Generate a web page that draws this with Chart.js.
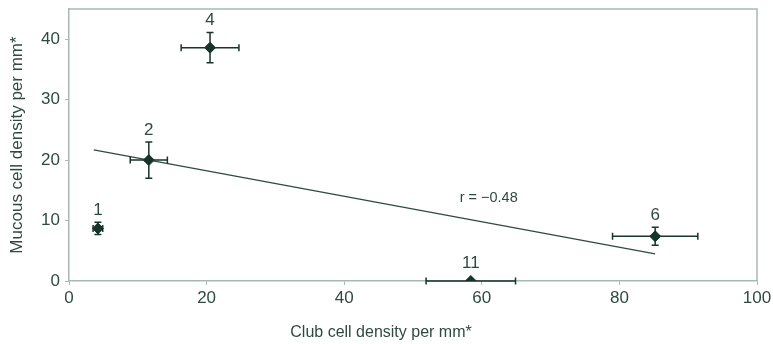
<!DOCTYPE html>
<html>
<head>
<meta charset="utf-8">
<script src="https://cdn.jsdelivr.net/npm/chart.js@4/dist/chart.umd.min.js"></script>
<style>
  html, body { margin: 0; padding: 0; background: #fff; }
  #wrap { width: 773px; height: 344px; }
</style>
</head>
<body>
<div id="wrap"><canvas id="chart"></canvas></div>
<script>
// --- Data ---
const pointLabels = ['1', '2', '4', '6', '11'];
const clubDensity = [4.2, 11.6, 20.5, 85.2, 58.4];
const clubErr = [0.7, 2.7, 4.2, 6.2, 6.5];
const mucousDensity = [8.7, 20.0, 38.6, 7.4, 0];
const mucousErr = [1.0, 3.0, 2.5, 1.5, 0];
const trendX = [3.6, 85.2];
const trendY = [21.7, 4.5];
const xTicks = [0, 20, 40, 60, 80, 100];
const yTicks = [0, 10, 20, 30, 40];
const rLabel = 'r = \u22120.48';
const rLabelAt = { x: 61, y: 13.8 };
const xTitle = 'Club cell density per mm*';
const yTitle = 'Mucous cell density per mm*';

const TEXT = '#2e4a3f';
const MARK = '#17352a';
const AXIS = '#a7bab2';
const FONT = "'Liberation Sans', Arial, sans-serif";

// error bars, point numbers, r label and x title
const extras = {
    id: 'extras',
    beforeDatasetsDraw(chart) {
        // frame: top and right edges
        const a = chart.chartArea, ctx = chart.ctx;
        ctx.save();
        ctx.strokeStyle = AXIS;
        ctx.lineWidth = 1.5;
        ctx.beginPath();
        ctx.moveTo(a.left, a.top); ctx.lineTo(a.right, a.top); ctx.lineTo(a.right, a.bottom);
        ctx.stroke();
        ctx.restore();
    },
    afterDatasetsDraw(chart) {
        const ctx = chart.ctx;
        const xs = chart.scales.x, ys = chart.scales.y;
        ctx.save();
        ctx.strokeStyle = MARK;
        ctx.lineWidth = 1.5;
        const cap = 3.5;
        clubDensity.forEach((x, i) => {
            const y = mucousDensity[i];
            const px = xs.getPixelForValue(x), py = ys.getPixelForValue(y);
            if (clubErr[i] > 0) {
                const l = xs.getPixelForValue(x - clubErr[i]);
                const r = xs.getPixelForValue(x + clubErr[i]);
                ctx.beginPath();
                ctx.moveTo(l, py); ctx.lineTo(r, py);
                ctx.moveTo(l, py - cap); ctx.lineTo(l, py + cap);
                ctx.moveTo(r, py - cap); ctx.lineTo(r, py + cap);
                ctx.stroke();
            }
            if (mucousErr[i] > 0) {
                const t = ys.getPixelForValue(y + mucousErr[i]);
                const b = ys.getPixelForValue(y - mucousErr[i]);
                ctx.beginPath();
                ctx.moveTo(px, t); ctx.lineTo(px, b);
                ctx.moveTo(px - cap, t); ctx.lineTo(px + cap, t);
                ctx.moveTo(px - cap, b); ctx.lineTo(px + cap, b);
                ctx.stroke();
            }
        });
        ctx.fillStyle = TEXT;
        ctx.font = '17px ' + FONT;
        ctx.textAlign = 'center';
        ctx.textBaseline = 'middle';
        clubDensity.forEach((x, i) => {
            const px = xs.getPixelForValue(x);
            const top = Math.min(ys.getPixelForValue(mucousDensity[i] + mucousErr[i]),
                                 ys.getPixelForValue(mucousDensity[i]) - 6);
            ctx.fillText(pointLabels[i], px, top - 12);
        });
        ctx.font = '14.5px ' + FONT;
        ctx.fillText(rLabel, xs.getPixelForValue(rLabelAt.x), ys.getPixelForValue(rLabelAt.y));
        // x axis title sits left of the plot centre in the original
        ctx.font = '16px ' + FONT;
        ctx.fillText(xTitle, 381, 333);
        ctx.restore();
    }
};

new Chart(document.getElementById('chart'), {
    type: 'scatter',
    data: {
        datasets: [{
            label: 'points',
            data: clubDensity.map((x, i) => ({ x: x, y: mucousDensity[i] })),
            pointStyle: 'rectRot',
            pointRadius: 5.5,
            backgroundColor: MARK,
            borderColor: MARK,
            borderWidth: 1,
            order: 1
        }, {
            label: 'trend',
            type: 'line',
            data: trendX.map((x, i) => ({ x: x, y: trendY[i] })),
            borderColor: '#2f4a40',
            borderWidth: 1.3,
            pointRadius: 0,
            fill: false,
            order: 2
        }]
    },
    options: {
        responsive: true,
        maintainAspectRatio: false,
        animation: false,
        layout: { padding: { top: 9, right: 16, left: 0, bottom: 0 } },
        plugins: { legend: { display: false }, tooltip: { enabled: false } },
        scales: {
            x: {
                type: 'linear',
                min: 0, max: 100,
                afterBuildTicks: s => { s.ticks = xTicks.map(v => ({ value: v })); },
                afterFit: s => { s.height = 63; s.paddingLeft = 0; s.paddingRight = 0; },
                border: { display: true, color: AXIS, width: 1.5 },
                grid: { display: true, drawOnChartArea: false, drawTicks: true, tickLength: 4, color: AXIS },
                ticks: { color: TEXT, font: { family: FONT, size: 17 }, padding: 3, maxRotation: 0 },
                title: { display: false }
            },
            y: {
                type: 'linear',
                min: 0, max: 45,
                afterBuildTicks: s => { s.ticks = yTicks.map(v => ({ value: v })); },
                afterFit: s => { s.width = 69; s.paddingTop = 0; s.paddingBottom = 0; },
                border: { display: true, color: AXIS, width: 1.5 },
                grid: { display: true, drawOnChartArea: false, drawTicks: true, tickLength: 4, color: AXIS },
                ticks: { color: TEXT, font: { family: FONT, size: 17 }, padding: 5 },
                title: { display: true, text: yTitle, color: TEXT, font: { family: FONT, size: 17 }, padding: { top: 7, bottom: 0 } }
            }
        }
    },
    plugins: [extras]
});
</script>
</body>
</html>
